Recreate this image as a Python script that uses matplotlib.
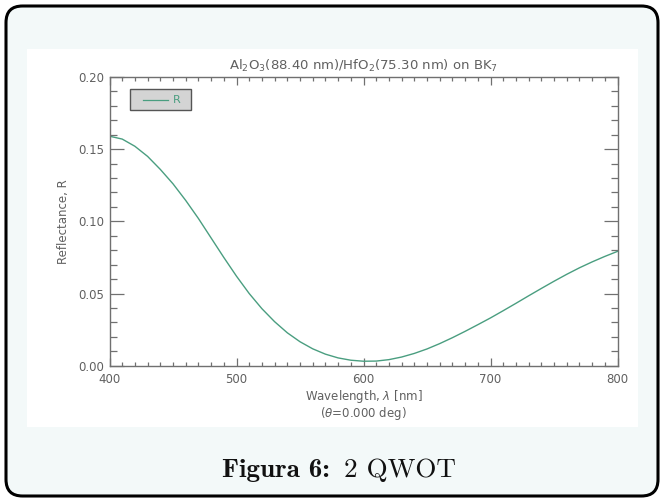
import os
import numpy as np
import matplotlib
import matplotlib.pyplot as plt
from matplotlib.patches import FancyBboxPatch, Rectangle
from matplotlib.ticker import MultipleLocator
from matplotlib.font_manager import FontProperties

plt.rcParams['mathtext.fontset'] = 'dejavusans'

# reflectance, 10 nm steps
wavelength = [400, 410, 420, 430, 440, 450, 460, 470, 480, 490,
              500, 510, 520, 530, 540, 550, 560, 570, 580, 590,
              600, 610, 620, 630, 640, 650, 660, 670, 680, 690,
              700, 710, 720, 730, 740, 750, 760, 770, 780, 790, 800]
reflectance = [0.159, 0.157, 0.152, 0.145, 0.136, 0.126, 0.1145, 0.102, 0.0885, 0.075,
               0.062, 0.050, 0.0395, 0.0305, 0.0228, 0.0166, 0.0117, 0.0080, 0.0054, 0.0038,
               0.0031, 0.0032, 0.0042, 0.0060, 0.0085, 0.0116, 0.0153, 0.0194, 0.0238, 0.0284,
               0.0331, 0.0381, 0.0432, 0.0484, 0.0535, 0.0585, 0.0633, 0.0678, 0.0719, 0.0757, 0.0792]

title = r'Al$_2$O$_3$(88.40 nm)/HfO$_2$(75.30 nm) on BK$_7$'
xlabel = 'Wavelength, $\\lambda$ [nm]\n($\\theta$=0.000 deg)'
ylabel = 'Reflectance, R'
caption_bold = 'Figura 6:'
caption_rest = '2 QWOT'

bg = '#f3f9f9'
axcol = '#707070'
txtcol = '#606060'
green = '#4a9e80'

ttf = os.path.join(matplotlib.get_data_path(), 'fonts', 'ttf')
cm_bold = FontProperties(fname=os.path.join(ttf, 'cmb10.ttf'), size=19.5)
cm_reg = FontProperties(fname=os.path.join(ttf, 'cmr10.ttf'), size=19.5)

fig = plt.figure(figsize=(6.62, 4.99), dpi=100)
fig.patch.set_facecolor('white')
W, H = 662, 499

# outer rounded box
box = FancyBboxPatch((6 / W, 3 / H), 652 / W, 490 / H,
                     boxstyle='round,pad=0,rounding_size=0.025',
                     transform=fig.transFigure, facecolor=bg,
                     edgecolor='black', linewidth=2.2, mutation_aspect=W / H,
                     zorder=-10)
fig.patches.append(box)
# white plot panel
panel = Rectangle((27 / W, (H - 427) / H), 611 / W, 378 / H,
                  transform=fig.transFigure, facecolor='white', edgecolor='none',
                  zorder=-9)
fig.patches.append(panel)

ax = fig.add_axes([109.5 / W, (H - 365.7) / H, 508 / W, 288.7 / H])
ax.set_facecolor('none')
ax.plot(wavelength, reflectance, color=green, lw=1.0)
ax.set_xlim(400, 800)
ax.set_ylim(0, 0.20)
ax.xaxis.set_major_locator(MultipleLocator(100))
ax.xaxis.set_minor_locator(MultipleLocator(10))
ax.yaxis.set_major_locator(MultipleLocator(0.05))
ax.yaxis.set_minor_locator(MultipleLocator(0.01))
ax.yaxis.set_major_formatter(plt.FormatStrFormatter('%.2f'))
for s in ax.spines.values():
    s.set_color(axcol)
    s.set_linewidth(1.0)
ax.tick_params(axis='both', which='both', direction='in', colors=axcol,
               labelcolor=txtcol, labelsize=8.5, top=True, right=True, width=0.9)
ax.tick_params(axis='x', which='major', length=6, pad=5)
ax.tick_params(axis='x', which='minor', length=3)
ax.tick_params(axis='y', which='major', length=10, pad=4)
ax.tick_params(axis='y', which='minor', length=5)

ax.set_title(title, color=txtcol, fontsize=9.5, pad=5)
ax.set_xlabel(xlabel, color=txtcol, fontsize=8.5, linespacing=1.0, labelpad=2)
ax.set_ylabel(ylabel, color=txtcol, fontsize=8.5, labelpad=6)

# legend box
leg = Rectangle((0.04, 0.885), 0.12, 0.075, transform=ax.transAxes,
                facecolor='#d4d4d4', edgecolor='#555555', lw=1.0)
ax.add_patch(leg)
ax.plot([0.065, 0.115], [0.922, 0.922], transform=ax.transAxes, color=green, lw=0.9)
ax.text(0.125, 0.922, 'R', transform=ax.transAxes, color=green, fontsize=8,
        va='center', ha='left')

fig.text(330 / W, (H - 477) / H, caption_bold, fontproperties=cm_bold,
         ha='right', va='baseline', color='#111111')
fig.text(344 / W, (H - 477) / H, caption_rest, fontproperties=cm_reg,
         ha='left', va='baseline', color='#111111')

fig.savefig('out.png', dpi=100, facecolor='white')
